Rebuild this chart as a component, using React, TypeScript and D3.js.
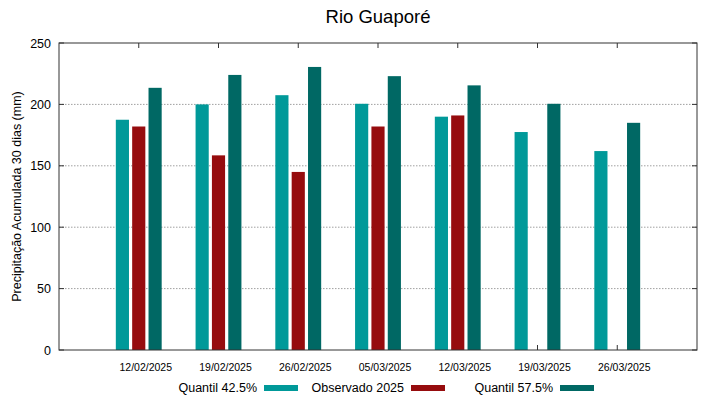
import { useEffect, useRef } from 'react'
import * as d3 from 'd3'

const categories = ['12/02/2025', '19/02/2025', '26/02/2025', '05/03/2025', '12/03/2025', '19/03/2025', '26/03/2025']
const quantil425 = [187.5, 200, 207.5, 200.5, 190, 177.5, 162]
const observado = [182, 158.5, 145, 182, 191, null, null]
const quantil575 = [213.5, 224, 230.5, 223, 215.5, 200.5, 185]
const yTicks = [0, 50, 100, 150, 200, 250]

const seriesNames = ['Quantil 42.5%', 'Observado 2025', 'Quantil 57.5%']
const colors = ['#009999', '#960c0e', '#006864']

const W = 719
const H = 399
const margin = { left: 59, right: 22, top: 43, bottom: 49 }

export default function App() {
    const ref = useRef<SVGSVGElement>(null)

    useEffect(() => {
        draw()
    })

    const draw = () => {
        const svg = d3.select(ref.current)
        svg.selectAll('*').remove()
        const font = '"Liberation Sans", Arial, sans-serif'
        const x0 = margin.left, x1 = W - margin.right
        const y0 = H - margin.bottom, y1 = margin.top

        // positions: groups at 1..7 of a 0..8 range
        const x = d3.scaleLinear().domain([0, categories.length + 1]).range([x0, x1])
        const y = d3.scaleLinear().domain([0, 250]).range([y0, y1])
        const step = x(1) - x(0)
        const barW = step * 0.165
        const gap = step * 0.04

        // grid
        svg.append('g').selectAll('line')
            .data(yTicks.filter(t => t > 0 && t < 250))
            .enter().append('line')
            .attr('x1', x0).attr('x2', x1)
            .attr('y1', d => y(d)).attr('y2', d => y(d))
            .attr('stroke', '#a0a0a0').attr('stroke-width', 1)
            .attr('stroke-dasharray', '1.5,1.5')

        // ticks (inward, mirrored)
        const tk = svg.append('g').attr('stroke', '#333').attr('stroke-width', 1)
        yTicks.forEach(t => {
            tk.append('line').attr('x1', x0).attr('x2', x0 + 5).attr('y1', y(t)).attr('y2', y(t))
            tk.append('line').attr('x1', x1).attr('x2', x1 - 5).attr('y1', y(t)).attr('y2', y(t))
        })
        categories.forEach((c, i) => {
            tk.append('line').attr('x1', x(i + 1)).attr('x2', x(i + 1)).attr('y1', y0).attr('y2', y0 - 5)
            tk.append('line').attr('x1', x(i + 1)).attr('x2', x(i + 1)).attr('y1', y1).attr('y2', y1 + 5)
        })

        // bars
        const allSeries = [quantil425, observado, quantil575]
        allSeries.forEach((vals, s) => {
            svg.append('g').selectAll('rect')
                .data(vals.map((v, i) => ({ v, i })).filter(d => d.v != null))
                .enter().append('rect')
                .attr('x', d => x(d.i + 1) + (s - 1) * (barW + gap) - barW / 2)
                .attr('y', d => y(d.v as number))
                .attr('width', barW)
                .attr('height', d => y0 - y(d.v as number))
                .attr('fill', colors[s])
        })

        // frame
        svg.append('rect')
            .attr('x', x0).attr('y', y1)
            .attr('width', x1 - x0).attr('height', y0 - y1)
            .attr('fill', 'none').attr('stroke', '#333').attr('stroke-width', 1)

        // y tick labels
        svg.append('g').selectAll('text')
            .data(yTicks).enter().append('text')
            .attr('x', x0 - 8).attr('y', d => y(d) + 4.5)
            .attr('text-anchor', 'end')
            .attr('font-family', font).attr('font-size', 12.5)
            .text(d => d)

        // x tick labels
        svg.append('g').selectAll('text')
            .data(categories).enter().append('text')
            .attr('x', (d, i) => x(i + 1) + 7).attr('y', y0 + 21)
            .attr('text-anchor', 'middle')
            .attr('font-family', font).attr('font-size', 10.5)
            .text(d => d)

        // title
        svg.append('text')
            .attr('x', (x0 + x1) / 2).attr('y', 23)
            .attr('text-anchor', 'middle')
            .attr('font-family', font).attr('font-size', 18.5)
            .text('Rio Guaporé')

        // y label
        svg.append('text')
            .attr('transform', `translate(21,${(y0 + y1) / 2}) rotate(-90)`)
            .attr('text-anchor', 'middle')
            .attr('font-family', font).attr('font-size', 12.5)
            .text('Precipitação Acumulada 30 dias (mm)')

        // legend
        const textEnds = [257, 404, 553]
        seriesNames.forEach((n, i) => {
            svg.append('text')
                .attr('x', textEnds[i]).attr('y', 392)
                .attr('text-anchor', 'end')
                .attr('font-family', font).attr('font-size', 12.5)
                .text(n)
            svg.append('rect')
                .attr('x', textEnds[i] + 7).attr('y', 385)
                .attr('width', 34).attr('height', 6)
                .attr('fill', colors[i])
        })
    }

    return (
        <svg width={W} height={H} ref={ref}
            style={{ position: 'absolute', left: 0, top: 0, background: '#fff' }} />
    )
}
